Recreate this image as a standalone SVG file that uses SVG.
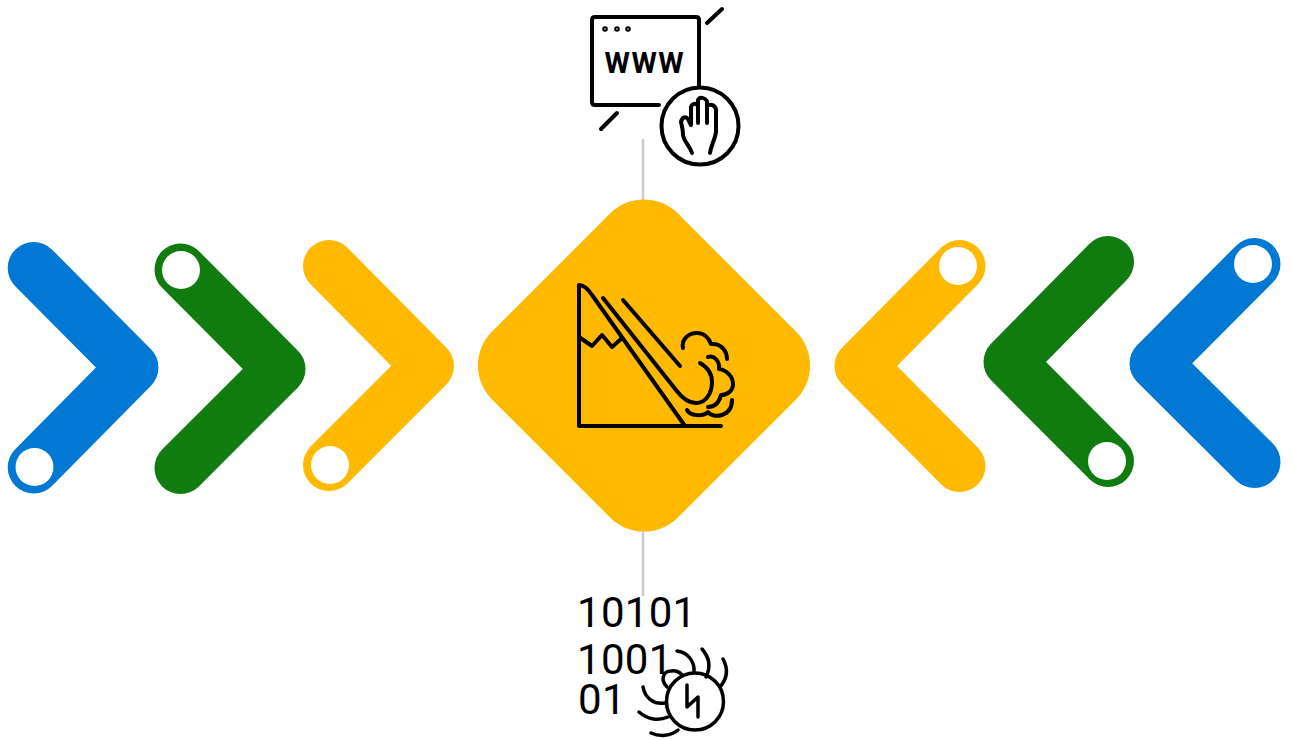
<svg xmlns="http://www.w3.org/2000/svg" width="1293" height="740" viewBox="0 0 1293 740">
<style>
.chev{fill:none;stroke-width:52;stroke-linecap:round;stroke-linejoin:round}
.blue{stroke:#0078d4}.green{stroke:#107c10}.yellow{stroke:#ffb900}
.hole{fill:#fff}
.ic{fill:none;stroke:#000;stroke-width:4;stroke-linecap:round;stroke-linejoin:round}
.conn{stroke:#ccc;stroke-width:2.5;fill:none}
.num{font-family:Roboto,"Liberation Sans",Arial,sans-serif;font-size:42px;fill:#000;letter-spacing:.3px}
</style>
<rect width="1293" height="740" fill="#fff"/>
<g id="connectors">
<path class="conn" d="M643 139V202"/>
<path class="conn" d="M643 529V596"/>
</g>
<g id="chevron-left-blue"><polyline class="chev blue" points="33.700,268 132.500,367.500 33.700,467.500"/><circle class="hole" cx="34.500" cy="467" r="19"/></g>
<g id="chevron-left-green"><polyline class="chev green" points="180.500,269.500 279.500,369 180.500,468"/><circle class="hole" cx="181" cy="270" r="19"/></g>
<g id="chevron-left-yellow"><polyline class="chev yellow" points="329,266 428,366 329,465"/><circle class="hole" cx="330" cy="465" r="19"/></g>
<g id="chevron-right-yellow"><polyline class="chev yellow" points="959.500,266 860.500,366 959.500,466"/><circle class="hole" cx="958" cy="266" r="19"/></g>
<g id="chevron-right-green"><polyline class="chev green" points="1108,262 1009.500,362 1108,461"/><circle class="hole" cx="1107" cy="461" r="19"/></g>
<g id="chevron-right-blue"><polyline class="chev blue" points="1254.500,264 1155.500,363.500 1254.500,462"/><circle class="hole" cx="1253" cy="264" r="19"/></g>
<g id="center-diamond">
<rect x="512.500" y="234" width="263" height="263" rx="48" transform="rotate(45 644 365.500)" fill="#ffb900"/>
<g class="ic">
<path d="M721 426H579V285C584 285 588 289 592 295L685 426"/>
<path d="M579 337L592 346L602 335L612 347L621 339"/>
<path d="M603 298L676 390C682 398 689 403 696 403C706 403 712 393 712 382C712 374 707 367 700 363"/>
<path d="M623 300L680 366"/>
<path d="M683 348C681 338 690 333 697 333C704 333 709 338 711 344C720 343 727 350 727 359"/>
<path d="M708 357C714 355 720 361 719 369C727 370 733 377 733 384C733 391 727 395 721 395C719 403 714 407 708 407"/>
<path d="M687 410C690 416 703 417 708 412C713 419 732 417 732 400"/>
</g>
</g>
<g id="www-block">
<g class="ic">
<path d="M699 87V20Q699 17 696 17H595Q592 17 592 20V102Q592 105 595 105H659"/>
<path d="M707 23L722 9M601 129L617 113"/>
<circle cx="700" cy="126" r="38.500"/>
<path d="M692 153C690 146 684 142 683 135C683 130 682 126 681 122C682 117 686 116 688 119L691 125V107C692 103 696 103 698 106V100C700 96 705 98 707 101V106C711 103 716 106 716 110V132C715 140 711 145 710 153M698 106V123M707 106V123"/>
</g>
<g style="fill:none;stroke:#000;stroke-width:2"><circle cx="605" cy="29" r="1.800"/><circle cx="617" cy="29" r="1.800"/><circle cx="628" cy="29" r="1.800"/></g>
<text x="604.500" y="73" font-family="Roboto, Liberation Sans, Arial, sans-serif" font-weight="700" font-size="29px" fill="#000" letter-spacing="1.500">WWW</text>
</g>
<g id="binary-bug">
<text class="num" x="577" y="627">10101</text>
<text class="num"><tspan x="577" y="674">1001</tspan><tspan x="578" y="714">01</tspan></text>
<g class="ic" style="stroke-width:3.500">
<circle cx="695" cy="701.500" r="28.500"/>
<path d="M687 685V707L698 697V717"/>
<path d="M667 687C660 680 663 671 671 671C675 670 680 672 682 675"/>
<path d="M677 651C687 652 695 661 694 672"/>
<path d="M702 649C709 657 711 667 706 677"/>
<path d="M723 659C729 670 726 680 720 687"/>
<path d="M643 687C645 698 654 705 665 703"/>
<path d="M639 712C648 720 659 721 668 717"/>
<path d="M651 733C660 737 671 736 678 730"/>
</g>
</g>
</svg>
